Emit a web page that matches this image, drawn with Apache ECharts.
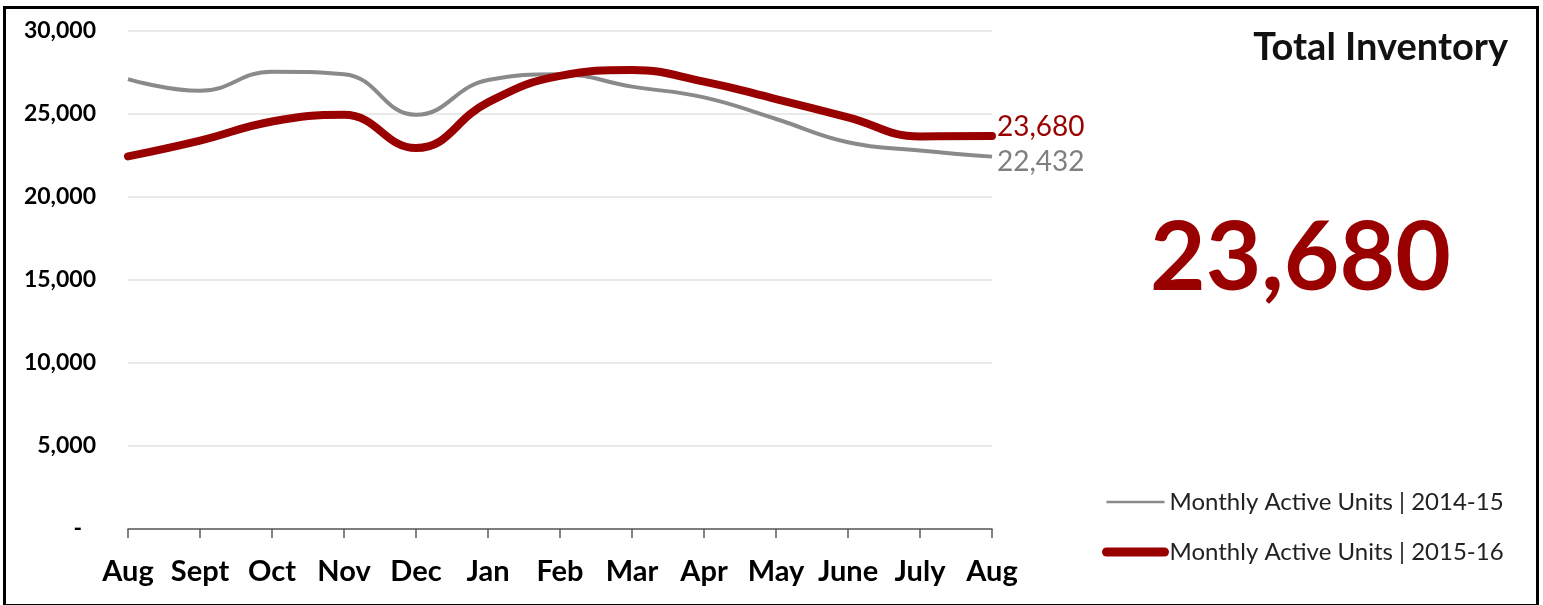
<!DOCTYPE html>
<html>
<head>
<meta charset="utf-8">
<script src="https://cdn.jsdelivr.net/npm/echarts@6/dist/echarts.min.js"></script>
<style>
html,body{margin:0;padding:0;background:#fff;}
#chart{width:1543px;height:605px;}
</style>
</head>
<body>
<div id="chart"></div>
<script>
const months = ['Aug','Sept','Oct','Nov','Dec','Jan','Feb','Mar','Apr','May','June','July','Aug'];
const units2014 = [27100, 26400, 27550, 27400, 24950, 27050, 27400, 26650, 26000, 24700, 23300, 22800, 22432];
const units2016 = [22450, 23400, 24550, 24950, 22950, 25700, 27300, 27650, 26950, 25900, 24800, 23650, 23680];
const seriesNames = ['Monthly Active Units | 2014-15', 'Monthly Active Units | 2015-16'];
const yTicks = [0, 5000, 10000, 15000, 20000, 25000, 30000];
const titleText = 'Total Inventory';
const bigNumber = '23,680';

const FONT = 'Lato';
const RED = '#990000';
const GRAY = '#8a8a8a';

const chart = echarts.init(document.getElementById('chart'), null, {renderer: 'canvas'});
const fmt = v => v.toLocaleString('en-US');

chart.setOption({
  animation: false,
  textStyle: {fontFamily: FONT},
  grid: {left: 128, right: 551, top: 31, bottom: 76, containLabel: false},
  xAxis: {
    type: 'category',
    data: months,
    boundaryGap: false,
    axisLine: {lineStyle: {color: '#595959', width: 1.5}},
    axisTick: {alignWithLabel: true, length: 9, lineStyle: {color: '#595959', width: 1.5}},
    axisLabel: {color: '#000', fontWeight: 'bold', fontSize: 29, margin: 28, fontFamily: FONT, interval: 0},
    splitLine: {show: false}
  },
  yAxis: {
    type: 'value',
    min: yTicks[0],
    max: yTicks[yTicks.length - 1],
    interval: yTicks[1] - yTicks[0],
    axisLine: {show: false},
    axisTick: {show: false},
    axisLabel: {
      color: '#000', fontWeight: 'bold', fontSize: 23, margin: 32, fontFamily: FONT,
      formatter: v => v === 0 ? '{d|-}' : fmt(v),
      rich: {d: {fontWeight: 'bold', fontSize: 23, padding: [0, 14, 0, 0], fontFamily: FONT, color: '#000'}}
    },
    splitLine: {lineStyle: {color: '#e3e3e3', width: 1.5}}
  },
  legend: {
    orient: 'vertical',
    left: 1097,
    top: 485,
    itemWidth: 58,
    itemHeight: 20,
    itemGap: 26,
    itemStyle: {opacity: 0},
    textStyle: {fontSize: 24, color: '#222', fontFamily: FONT},
    data: [
      {name: seriesNames[0], lineStyle: {width: 2.5, color: GRAY}},
      {name: seriesNames[1], lineStyle: {width: 9, color: RED, cap: 'round'}}
    ]
  },
  title: [
    {text: titleText, right: 30, top: 24, textStyle: {fontSize: 38, fontWeight: 'bold', color: '#111', fontFamily: FONT}},
  ],
  graphic: [
    {type: 'text', left: 1150, top: 211, style: {text: bigNumber, fill: RED, font: 'bold 96px ' + FONT}},
    {type: 'rect', left: 2, top: 5, shape: {width: 1533, height: 598}, style: {fill: 'none', stroke: '#000', lineWidth: 3}}
  ],
  series: [
    {
      name: seriesNames[0], type: 'line', data: units2014, smooth: 0.45, symbol: 'none',
      lineStyle: {color: GRAY, width: 4},
      itemStyle: {color: GRAY},
      endLabel: {show: true, formatter: p => fmt(p.value), color: '#7f7f7f', fontSize: 28, fontFamily: FONT, distance: 5, offset: [0, 5]},
      z: 2
    },
    {
      name: seriesNames[1], type: 'line', data: units2016, smooth: 0.45, symbol: 'none',
      lineStyle: {color: RED, width: 8, cap: 'round'},
      itemStyle: {color: RED},
      endLabel: {show: true, formatter: p => fmt(p.value), color: RED, fontSize: 28, fontFamily: FONT, distance: 5, offset: [0, -9]},
      z: 3
    }
  ]
});
</script>
</body>
</html>
